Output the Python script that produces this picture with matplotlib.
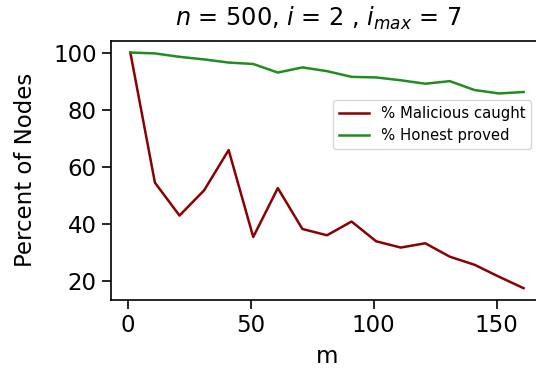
import matplotlib
matplotlib.use("Agg")
import matplotlib.pyplot as plt

m_values = [1, 11, 21, 31, 41, 51, 61, 71, 81, 91, 101, 111, 121, 131, 141, 151, 161]
malicious_caught = [100, 54.5, 43.0, 51.8, 65.9, 35.5, 52.6, 38.3, 36.1, 40.9, 34.0, 31.8, 33.3, 28.6, 25.8, 21.6, 17.6]
honest_proved = [100, 99.7, 98.5, 97.6, 96.5, 96.0, 93.0, 94.8, 93.5, 91.5, 91.3, 90.3, 89.1, 90.0, 86.9, 85.7, 86.2]

fig = plt.figure(figsize=(5.36, 3.74), dpi=100)
ax = fig.add_axes([0.2065, 0.198, 0.807, 0.693])

ax.plot(m_values, malicious_caught, color="#8B0000", lw=1.8, label="% Malicious caught")
ax.plot(m_values, honest_proved, color="#228B22", lw=1.8, label="% Honest proved")

fs = 16.5
ax.set_title(r"$n$ = 500, $i$ = 2 , $i_{max}$ = 7", fontsize=17.3, pad=11, x=0.48)
ax.set_xlabel("m", fontsize=fs, labelpad=6)
ax.set_ylabel("Percent of Nodes", fontsize=fs, labelpad=12)
ax.tick_params(labelsize=fs, length=6.5, width=1.2)
for s in ax.spines.values():
    s.set_linewidth(1.2)
ax.set_xticks([0, 50, 100, 150])
ax.set_yticks([20, 40, 60, 80, 100])

ax.legend(loc="upper left", bbox_to_anchor=(0.514, 0.771), borderaxespad=0, fontsize=10.7)

fig.savefig("out.png", dpi=100)
